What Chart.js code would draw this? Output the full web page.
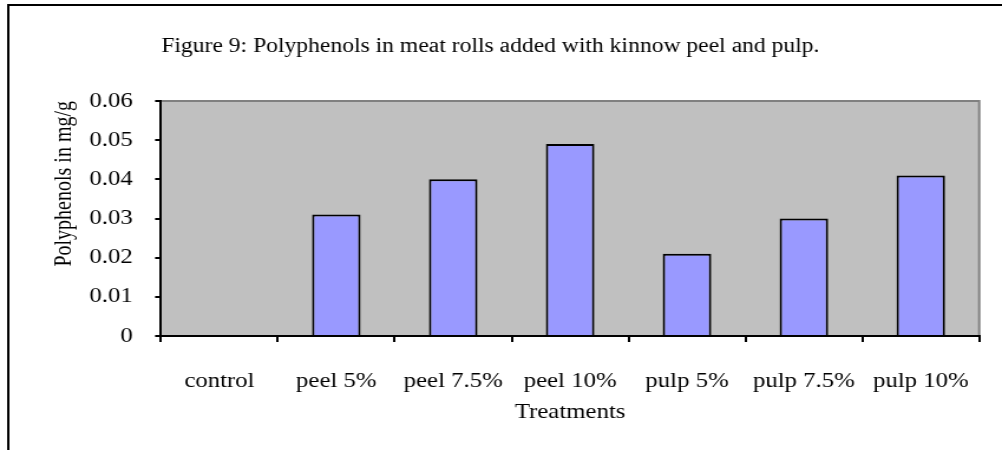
<!DOCTYPE html>
<html>
<head>
<meta charset="utf-8">
<script src="https://cdn.jsdelivr.net/npm/chart.js@4/dist/chart.umd.min.js"></script>
<style>
  html, body { margin: 0; padding: 0; background: #fff; overflow: hidden; }
  /* the original figure is stretched sideways, so the canvas is too */
  #chart { display: block; width: 849px; height: 450px; transform: scaleX(1.1802); transform-origin: 0 0; }
</style>
</head>
<body>
<canvas id="chart" width="849" height="450"></canvas>
<script>
const categories = ['control', 'peel 5%', 'peel 7.5%', 'peel 10%', 'pulp 5%', 'pulp 7.5%', 'pulp 10%'];
const polyphenols = [0, 0.031, 0.040, 0.049, 0.021, 0.030, 0.041];
const yTicks = [0, 0.01, 0.02, 0.03, 0.04, 0.05, 0.06];
const yTickLabels = ['0', '0.01', '0.02', '0.03', '0.04', '0.05', '0.06'];

const serif = '"Liberation Serif", "Times New Roman", serif';

// gray plot area, gray top/right edge, and the outer frame of the figure
const backdrop = {
    id: 'backdrop',
    beforeDraw(chart) {
        const c = chart.ctx;
        const a = chart.chartArea;
        c.save();
        c.strokeStyle = '#000';
        c.lineWidth = 2;
        c.beginPath();
        c.moveTo(7, 460);
        c.lineTo(7, 5);
        c.lineTo(860, 5);
        c.stroke();
        c.fillStyle = '#c0c0c0';
        c.fillRect(a.left, a.top, a.right - a.left, a.bottom - a.top);
        c.strokeStyle = '#808080';
        c.beginPath();
        c.moveTo(a.left, a.top);
        c.lineTo(a.right, a.top);
        c.lineTo(a.right, a.bottom);
        c.stroke();
        c.restore();
    }
};

new Chart(document.getElementById('chart'), {
    type: 'bar',
    data: {
        labels: categories,
        datasets: [{
            data: polyphenols,
            backgroundColor: '#9999ff',
            borderColor: '#000',
            borderWidth: 2,
            barPercentage: 0.415,
            categoryPercentage: 1
        }]
    },
    options: {
        responsive: false,
        devicePixelRatio: 1,
        animation: false,
        layout: { padding: { left: 0, right: 18, top: 0, bottom: 0 } },
        plugins: {
            legend: { display: false },
            tooltip: { enabled: false },
            title: {
                display: true,
                text: 'Figure 9: Polyphenols in meat rolls added with kinnow peel and pulp.',
                color: '#000',
                font: { family: serif, size: 20, weight: 'normal' },
                padding: { top: 35, bottom: 42 }
            }
        },
        scales: {
            x: {
                grid: { drawOnChartArea: false, drawTicks: true, tickLength: 6, color: '#000', lineWidth: 2, offset: true },
                border: { color: '#000', width: 2 },
                ticks: { color: '#000', font: { family: serif, size: 21 }, padding: 27, maxRotation: 0, autoSkip: false },
                title: {
                    display: true,
                    text: 'Treatments',
                    color: '#000',
                    font: { family: serif, size: 21 },
                    padding: { top: 0, bottom: 25 }
                },
                afterFit(scale) { scale.height = 114; }
            },
            y: {
                min: 0,
                max: 0.06,
                afterBuildTicks(scale) { scale.ticks = yTicks.map(v => ({ value: v })); },
                grid: { drawOnChartArea: false, drawTicks: true, tickLength: 5, color: '#000', lineWidth: 2 },
                border: { color: '#000', width: 2 },
                ticks: {
                    color: '#000',
                    font: { family: serif, size: 21 },
                    padding: 19,
                    callback: (v, i) => yTickLabels[i]
                },
                title: {
                    display: true,
                    text: 'Polyphenols in mg/g',
                    color: '#000',
                    align: 'end',
                    font: { family: serif, size: 20 },
                    padding: { top: 43, bottom: 0 }
                },
                afterFit(scale) { scale.width = 136.4; }
            }
        }
    },
    plugins: [backdrop]
});
</script>
</body>
</html>
